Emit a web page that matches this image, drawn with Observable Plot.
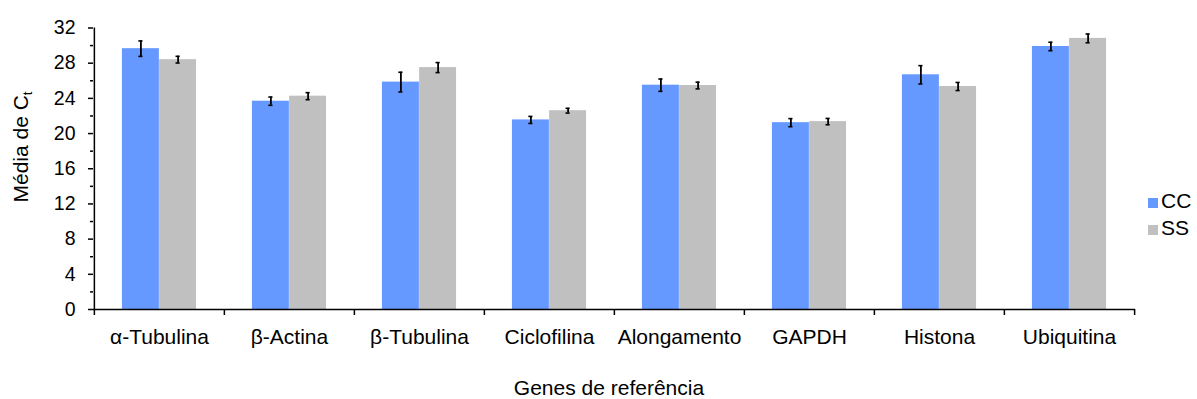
<!DOCTYPE html>
<html>
<head>
<meta charset="utf-8">
<script src="https://cdn.jsdelivr.net/npm/d3@7"></script>
<script src="https://cdn.jsdelivr.net/npm/@observablehq/plot@0.6"></script>
<style>
  html, body { margin: 0; padding: 0; background: #fff; }
  #chart { position: relative; width: 1197px; height: 399px; font-family: "Liberation Sans", Arial, sans-serif; }
  #chart svg { font-family: "Liberation Sans", Arial, sans-serif; }
</style>
</head>
<body>
<div id="chart"></div>
<script>
// ---- data ----
const genes = ["α-Tubulina", "β-Actina", "β-Tubulina", "Ciclofilina", "Alongamento", "GAPDH", "Histona", "Ubiquitina"];
const series = ["CC", "SS"];
const ccMean = [29.65, 23.68, 25.85, 21.55, 25.5, 21.24, 26.68, 29.9];
const ccErr  = [0.88, 0.47, 1.12, 0.40, 0.70, 0.46, 1.04, 0.48];
const ssMean = [28.4, 24.25, 27.5, 22.6, 25.46, 21.36, 25.35, 30.82];
const ssErr  = [0.38, 0.40, 0.57, 0.27, 0.38, 0.36, 0.46, 0.50];
const yMajorTicks = [0, 4, 8, 12, 16, 20, 24, 28, 32];
const yMinorTicks = [2, 6, 10, 14, 18, 22, 26, 30];
const seriesColors = ["#6699FF", "#C0C0C0"];
const xTitle = "Genes de referência";
const yTitle = "Média de C";
const yTitleSub = "t";

// ---- layout ----
const W = 1197, H = 399;
const mL = 93, mR = 62, mT = 27.5, mB = 90;
const step = (W - mL - mR) / genes.length;
const barW = 37.2;
const gap = (step - 2 * barW) / 2;

const rows = genes.flatMap((g, i) => [
  {gene: g, series: "CC", mean: ccMean[i], err: ccErr[i]},
  {gene: g, series: "SS", mean: ssMean[i], err: ssErr[i]}
]);

function seriesMarks(s, k) {
  const d = rows.filter(r => r.series === s);
  const left = gap + k * barW;
  const center = left + barW / 2;
  const cap = 2.2;
  return [
    Plot.barY(d, {x: "gene", y: "mean", fill: "series", insetLeft: left, insetRight: step - left - barW}),
    Plot.ruleX(d, {x: "gene", y1: r => r.mean - r.err, y2: r => r.mean + r.err, dx: center - step / 2, stroke: "#000", strokeWidth: 1.8}),
    Plot.tickY(d, {x: "gene", y: r => r.mean + r.err, insetLeft: center - cap, insetRight: step - center - cap, stroke: "#000", strokeWidth: 1.6}),
    Plot.tickY(d, {x: "gene", y: r => r.mean - r.err, insetLeft: center - cap, insetRight: step - center - cap, stroke: "#000", strokeWidth: 1.6})
  ];
}

const plot = Plot.plot({
  width: W,
  height: H,
  marginLeft: mL,
  marginRight: mR,
  marginTop: mT,
  marginBottom: mB,
  style: {fontFamily: "Liberation Sans, Arial, sans-serif", color: "#000", background: "#fff"},
  x: {domain: genes, padding: 0, label: null},
  y: {domain: [0, 32], label: null},
  color: {domain: series, range: seriesColors},
  marks: [
    ...seriesMarks("CC", 0),
    ...seriesMarks("SS", 1),
    Plot.ruleY([0], {stroke: "#000", strokeWidth: 1.6}),
    Plot.ruleX([genes[0]], {x: d => d, dx: -step / 2, y1: 0, y2: 32, stroke: "#000", strokeWidth: 1.5}),
    Plot.axisY({ticks: yMajorTicks, tickSize: 5, tickPadding: 13, fontSize: 19.5, label: null, stroke: "#000", strokeWidth: 1.5}),
    Plot.axisY({ticks: yMinorTicks, tickSize: 3, tickFormat: () => "", label: null, stroke: "#000", strokeWidth: 1.5}),
    Plot.axisX({ticks: genes, tickSize: 6, tickFormat: () => "", dx: -step / 2, label: null, stroke: "#000", strokeWidth: 1.5}),
    Plot.axisX({ticks: [genes[genes.length - 1]], tickSize: 6, tickFormat: () => "", dx: step / 2, label: null, stroke: "#000", strokeWidth: 1.5}),
    Plot.axisX({ticks: genes, tickSize: 0, tickPadding: 20, fontSize: 21, label: null})
  ]
});

document.getElementById("chart").appendChild(plot);

// ---- titles & legend ----
const svg = d3.select(plot);
svg.append("text")
  .attr("x", 609).attr("y", 395)
  .attr("text-anchor", "middle")
  .attr("font-size", 21)
  .attr("fill", "#000")
  .text(xTitle);

const yt = svg.append("text")
  .attr("transform", "translate(28,147) rotate(-90)")
  .attr("text-anchor", "middle")
  .attr("font-size", 21)
  .attr("fill", "#000");
yt.append("tspan").text(yTitle);
yt.append("tspan").attr("font-size", 13).attr("dy", 4).text(yTitleSub);

const color = plot.scale("color");
const lg = svg.append("g").attr("text-anchor", "start");
color.domain.forEach((s, i) => {
  const y0 = 198 + i * 27;
  lg.append("rect").attr("x", 1148).attr("y", y0).attr("width", 10).attr("height", 10).attr("fill", color.range[i]);
  lg.append("text").attr("x", 1161).attr("y", y0 + 10).attr("text-anchor", "start").attr("font-size", 21).attr("fill", "#000").text(s);
});
</script>
</body>
</html>
